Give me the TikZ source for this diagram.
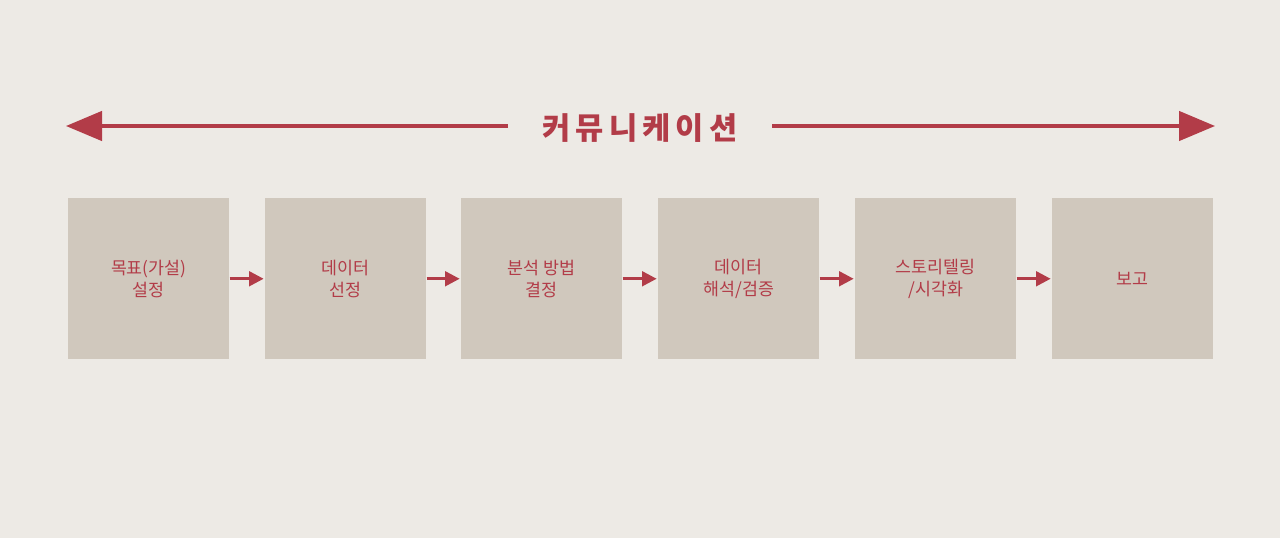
\documentclass[tikz,border=0pt]{standalone}
\usepackage{fontspec}
\setmainfont{Noto Sans CJK KR}
\usetikzlibrary{arrows.meta}
\definecolor{bg}{HTML}{EDEAE5}
\definecolor{boxc}{HTML}{D0C8BD}
\definecolor{redc}{HTML}{B23C48}
\tikzset{
  stepbox/.style={fill=boxc,minimum width=161*0.75pt,minimum height=161*0.75pt,inner sep=0pt,
    text=redc,font=\fontsize{13}{16.5}\selectfont,align=center,anchor=north west},
  flow/.style={draw=redc,line width=2.2pt,-{Triangle[length=11pt,width=11pt]}},
  big/.style={draw=redc,line width=2.6pt,-{Triangle[length=27pt,width=22pt]}}
}
\begin{document}
\begin{tikzpicture}[x=0.75pt,y=-0.75pt]
\fill[bg] (0,0) rectangle (1280,538);
\useasboundingbox (0,0) rectangle (1280,538);
\node[font=\fontsize{23}{26}\selectfont\bfseries,text=redc,inner sep=0pt] (t) at (640,128) {커\,뮤\,니\,케\,이\,션};
\coordinate (L) at (66,126);
\coordinate (R) at (1215,126);
\coordinate (tl) at (508,126);
\coordinate (tr) at (772,126);
\draw[big] (tl) -- (L);
\draw[big] (tr) -- (R);
\node[stepbox] (b1) at (68,198) {목표(가설)\\설정};
\node[stepbox] (b2) at (265,198) {데이터\\선정};
\node[stepbox] (b3) at (461,198) {분석 방법\\결정};
\node[stepbox] (b4) at (658,198) {데이터\\해석/검증};
\node[stepbox] (b5) at (855,198) {스토리텔링\\/시각화};
\node[stepbox] (b6) at (1052,198) {보고};
\foreach \a/\b in {b1/b2,b2/b3,b3/b4,b4/b5,b5/b6}
  \draw[flow] ([yshift=0pt]\a.east) -- ([xshift=-1pt]\b.west);
\end{tikzpicture}
\end{document}
